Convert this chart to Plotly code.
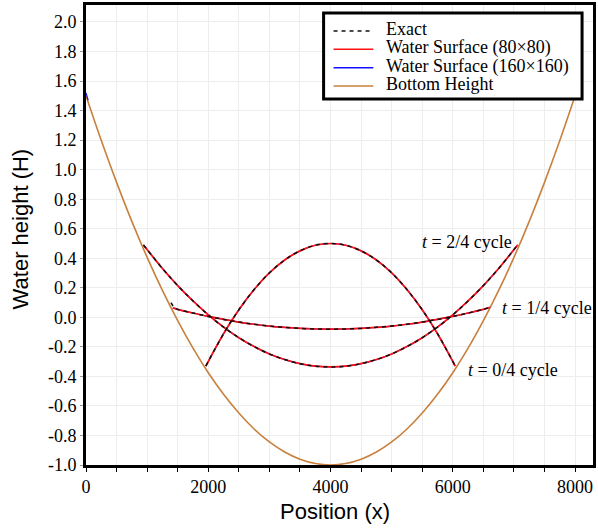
import plotly.graph_objects as go

# ---------------- data ----------------
bottom_x = [0, 250, 500, 750, 1000, 1250, 1500, 1750, 2000, 2250, 2500, 2750, 3000, 3250,
            3500, 3750, 4000, 4250, 4500, 4750, 5000, 5250, 5500, 5750, 6000, 6250,
            6500, 6750, 7000, 7250, 7500, 7750, 8000]
bottom_h = [1.5, 1.197, 0.914, 0.650, 0.406, 0.182, -0.023, -0.209, -0.375, -0.521, -0.648,
            -0.756, -0.844, -0.912, -0.961, -0.990, -1.0, -0.990, -0.961, -0.912, -0.844,
            -0.756, -0.648, -0.521, -0.375, -0.209, -0.023, 0.182, 0.406, 0.650, 0.914,
            1.197, 1.5]

# t = 0/4 cycle
t0_x = [1960, 2250, 2500, 2750, 3000, 3250, 3500, 3750, 4000, 4250, 4500, 4750, 5000,
        5250, 5500, 5750, 6040]
t0_h = [-0.33, -0.111, 0.051, 0.188, 0.301, 0.388, 0.450, 0.488, 0.500, 0.488, 0.450,
        0.388, 0.301, 0.188, 0.051, -0.111, -0.33]

# t = 1/4 cycle
t1_x = [1420, 1500, 1750, 2000, 2250, 2500, 2750, 3000, 3250, 3500, 3750, 4000, 4250,
        4500, 4750, 5000, 5250, 5500, 5750, 6000, 6250, 6500, 6610]
t1_h = [0.064, 0.054, 0.029, 0.006, -0.014, -0.032, -0.047, -0.059, -0.068, -0.075,
        -0.079, -0.080, -0.079, -0.075, -0.068, -0.059, -0.047, -0.032, -0.014, 0.006,
        0.029, 0.054, 0.068]
t1_exact_x = [1390, 1450, 1500, 1750, 2000, 2250, 2500, 2750, 3000, 3250, 3500, 3750,
              4000, 4250, 4500, 4750, 5000, 5250, 5500, 5750, 6000, 6250, 6500, 6610]
t1_exact_h = [0.10, 0.064, 0.054, 0.029, 0.006, -0.014, -0.032, -0.047, -0.059, -0.068,
              -0.075, -0.079, -0.080, -0.079, -0.075, -0.068, -0.059, -0.047, -0.032,
              -0.014, 0.006, 0.029, 0.054, 0.068]

# t = 2/4 cycle
t2_x = [940, 1250, 1500, 1750, 2000, 2250, 2500, 2750, 3000, 3250, 3500, 3750, 4000,
        4250, 4500, 4750, 5000, 5250, 5500, 5750, 6000, 6250, 6500, 6750, 7060]
t2_h = [0.49, 0.331, 0.215, 0.111, 0.017, -0.066, -0.138, -0.198, -0.248, -0.286, -0.314,
        -0.331, -0.336, -0.331, -0.314, -0.286, -0.248, -0.198, -0.138, -0.066, 0.017,
        0.111, 0.215, 0.331, 0.49]

# small dry-edge artefact of the fine grid at the left wall
fine_edge_x = [0, 35]
fine_edge_h = [1.52, 1.47]

x_tick_vals = [0, 500, 1000, 1500, 2000, 2500, 3000, 3500, 4000, 4500, 5000, 5500, 6000,
               6500, 7000, 7500, 8000]
x_tick_text = ["0", "", "", "", "2000", "", "", "", "4000", "", "", "", "6000", "", "",
               "", "8000"]
y_tick_vals = [-1.0, -0.8, -0.6, -0.4, -0.2, 0.0, 0.2, 0.4, 0.6, 0.8, 1.0, 1.2, 1.4, 1.6,
               1.8, 2.0]
y_tick_text = ["-1.0", "-0.8", "-0.6", "-0.4", "-0.2", "0.0", "0.2", "0.4", "0.6", "0.8",
               "1.0", "1.2", "1.4", "1.6", "1.8", "2.0"]

legend_labels = ["Exact", "Water Surface (80\u00d780)", "Water Surface (160\u00d7160)",
                 "Bottom Height"]
curve_labels = ["<i>t</i> = 2/4 cycle", "<i>t</i> = 1/4 cycle", "<i>t</i> = 0/4 cycle"]
curve_label_x = [5463, 6764, 6211]
curve_label_y = [0.51, 0.064, -0.356]

# ---------------- styles ----------------
C_BOTTOM = "#c8803e"
C_RED = "#ff1010"
C_BLUE = "#1010ff"
C_EXACT = "#111111"
DASH = "4px,4px"
SERIF = "Liberation Serif"
SANS = "Liberation Sans"

fig = go.Figure()

fig.add_trace(go.Scatter(x=bottom_x, y=bottom_h, mode="lines",
                         line=dict(color=C_BOTTOM, width=1.6, shape="spline"),
                         hoverinfo="skip"))

for xs, hs in [(t0_x, t0_h), (t1_x, t1_h), (t2_x, t2_h), (fine_edge_x, fine_edge_h)]:
    fig.add_trace(go.Scatter(x=xs, y=hs, mode="lines",
                             line=dict(color=C_BLUE, width=1.2, shape="spline")))
for xs, hs in [(t0_x, t0_h), (t1_x, t1_h), (t2_x, t2_h)]:
    fig.add_trace(go.Scatter(x=xs, y=hs, mode="lines",
                             line=dict(color=C_RED, width=1.7, shape="spline")))
for xs, hs in [(t0_x, t0_h), (t1_exact_x, t1_exact_h), (t2_x, t2_h)]:
    fig.add_trace(go.Scatter(x=xs, y=hs, mode="lines",
                             line=dict(color=C_EXACT, width=1.5, dash=DASH, shape="spline")))

# curve labels
for txt, lx, ly in zip(curve_labels, curve_label_x, curve_label_y):
    fig.add_annotation(x=lx, y=ly, xref="x", yref="y", text=txt, showarrow=False,
                       xanchor="left", yanchor="middle",
                       font=dict(family=SERIF, size=18, color="black"))

# ---------------- manual legend (paper coords) ----------------
L, B, W, H = 86, 65, 510, 460   # plot area in px (left, bottom margin, width, height)
def px_x(p):
    return (p - L) / W
def px_y(p):
    return (530 - B - p) / H

fig.add_shape(type="rect", xref="paper", yref="paper",
              x0=px_x(325), x1=px_x(585), y0=px_y(99), y1=px_y(13),
              line=dict(color="black", width=3), fillcolor="white", layer="above")
row_y = [29.5, 47.8, 66.2, 84.5]
row_style = [dict(color=C_EXACT, width=1.6, dash=DASH), dict(color=C_RED, width=1.6),
             dict(color=C_BLUE, width=1.6), dict(color=C_BOTTOM, width=1.6)]
for lab, ry, st in zip(legend_labels, row_y, row_style):
    fig.add_shape(type="line", xref="paper", yref="paper",
                  x0=px_x(335), x1=px_x(375), y0=px_y(ry + 1.5), y1=px_y(ry + 1.5),
                  line=st, layer="above")
    fig.add_annotation(x=px_x(386), y=px_y(ry), xref="paper", yref="paper", text=lab,
                       showarrow=False, xanchor="left", yanchor="middle",
                       font=dict(family=SERIF, size=18, color="black"))

# axis titles
fig.add_annotation(x=px_x(336), y=px_y(511), xref="paper", yref="paper",
                   text="Position (x)", showarrow=False, xanchor="center", yanchor="middle",
                   font=dict(family=SANS, size=22, color="black"))
fig.add_annotation(x=px_x(21), y=px_y(229), xref="paper", yref="paper",
                   text="Water height (H)", showarrow=False, textangle=-90,
                   xanchor="center", yanchor="middle",
                   font=dict(family=SANS, size=22, color="black"))

fig.update_layout(
    width=598, height=530,
    margin=dict(l=L, r=2, t=5, b=B),
    plot_bgcolor="white", paper_bgcolor="white",
    showlegend=False,
    xaxis=dict(range=[0, 8293], tickmode="array", tickvals=x_tick_vals, ticktext=x_tick_text,
               ticks="outside", ticklen=4, tickwidth=1.3, tickcolor="black",
               showgrid=True, gridcolor="#ededed", gridwidth=1, zeroline=False,
               showline=True, linecolor="black", linewidth=2.6, mirror=True,
               tickfont=dict(family=SERIF, size=18, color="black")),
    yaxis=dict(range=[-1.0, 2.115], tickmode="array", tickvals=y_tick_vals,
               ticktext=y_tick_text, ticks="outside", ticklen=3, tickcolor="#999999",
               showgrid=True, gridcolor="#ededed", gridwidth=1, zeroline=False,
               showline=True, linecolor="black", linewidth=2.6, mirror=True,
               tickfont=dict(family=SERIF, size=18, color="black")),
)

fig.write_html("out.html", config={"displayModeBar": False},
               post_script="document.body.style.margin='0';document.body.style.overflow='hidden';")
